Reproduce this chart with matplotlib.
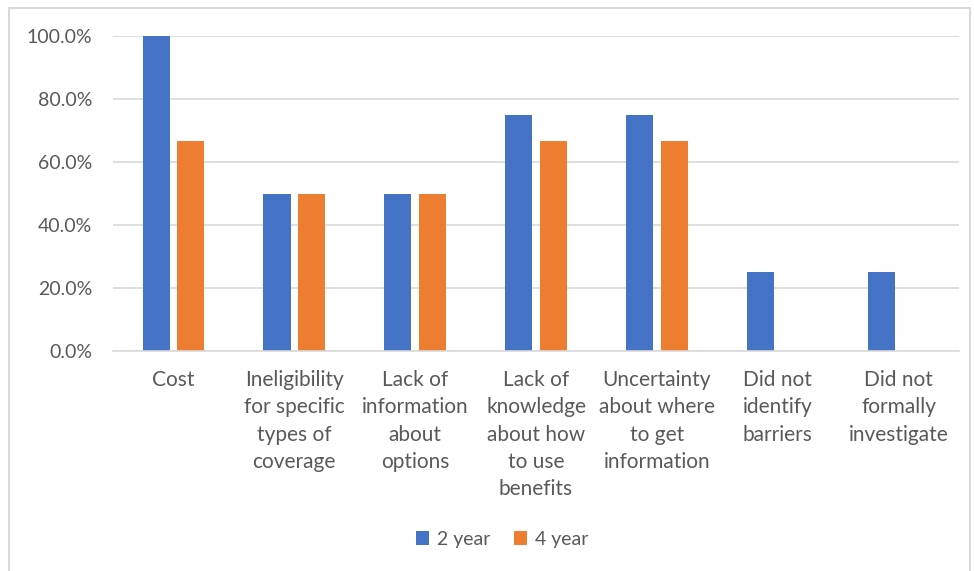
import matplotlib
matplotlib.use("Agg")
import matplotlib.pyplot as plt
from matplotlib.patches import Rectangle
import numpy as np

categories = ["Cost",
              "Ineligibility\nfor specific\ntypes of\ncoverage",
              "Lack of\ninformation\nabout\noptions",
              "Lack of\nknowledge\nabout how\nto use\nbenefits",
              "Uncertainty\nabout where\nto get\ninformation",
              "Did not\nidentify\nbarriers",
              "Did not\nformally\ninvestigate"]
two_year = [100.0, 50.0, 50.0, 75.0, 75.0, 25.0, 25.0]
four_year = [66.7, 50.0, 50.0, 66.7, 66.7, 0.0, 0.0]
series_names = ["2 year", "4 year"]
yticks = [0, 20, 40, 60, 80, 100]

plt.rcParams['font.family'] = ['Lato', 'DejaVu Sans']
txt = "#595959"

fig = plt.figure(figsize=(9.74, 5.71), dpi=100)
W, H = 974, 571
ax = fig.add_axes([113/W, 1-351/H, (959-113)/W, (351-36)/H])

x = np.arange(len(categories))
w = 0.225
off = 0.143
ax.bar(x - off, two_year, w, color="#4472C4", label=series_names[0], zorder=3)
ax.bar(x + off, four_year, w, color="#ED7D31", label=series_names[1], zorder=3)

ax.set_xlim(-0.5, len(categories) - 0.5)
ax.set_ylim(0, 100)
ax.set_yticks(yticks)
ax.set_yticklabels([f"{v:.1f}%" for v in yticks], fontsize=14, color=txt)
ax.set_xticks(x)
ax.set_xticklabels(categories, fontsize=15, color=txt, linespacing=1.44)
ax.tick_params(axis='both', length=0)
ax.tick_params(axis='y', pad=15)
ax.tick_params(axis='x', pad=14)
ax.yaxis.grid(True, color="#D9D9D9", linewidth=1.2, zorder=0)
for s in ["top", "right", "left"]:
    ax.spines[s].set_visible(False)
ax.spines["bottom"].set_color("#D9D9D9")
ax.spines["bottom"].set_linewidth(1.2)
ax.spines["bottom"].set_zorder(4)

leg = fig.legend(loc="center", bbox_to_anchor=(502/W, 1-539/H), ncol=2, frameon=False,
                 fontsize=14, handlelength=0.7, handleheight=0.7, columnspacing=1.2,
                 handletextpad=0.4)
for t in leg.get_texts():
    t.set_color(txt)

fig.patches.append(Rectangle((9/W, -0.1), (970-9)/W, 1.1 - 8/H, transform=fig.transFigure,
                             fill=False, edgecolor="#D9D9D9", linewidth=1.5))

fig.savefig("out.png", dpi=100)
